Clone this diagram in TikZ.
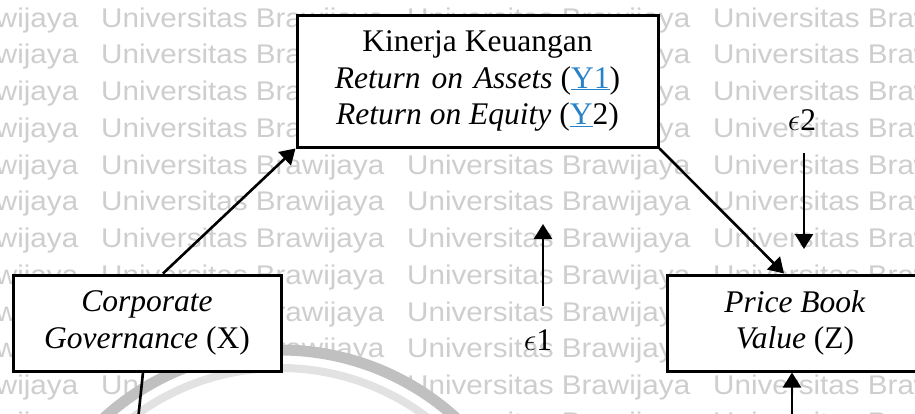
\RequirePackage{fix-cm}
\documentclass[tikz,border=0pt]{standalone}
\usepackage{fontspec}
\setmainfont{Liberation Serif}
\newfontfamily\wmfont{Liberation Sans}
\usetikzlibrary{arrows.meta}
\definecolor{linkblue}{RGB}{40,130,200}
\definecolor{wmgray}{RGB}{206,206,206}
\definecolor{ringdark}{RGB}{192,192,192}
\definecolor{ringlight}{RGB}{226,226,226}

\begin{document}
\begin{tikzpicture}[x=1pt,y=-1pt,
  box/.style={draw=black,line width=3pt,fill=white,inner sep=0pt,align=center,
    font=\fontsize{31.5}{36.5}\selectfont},
  link/.style={line width=2.6pt,-{Triangle[length=15pt,width=18pt]}},
  wm/.style={anchor=base west,inner sep=0pt,text=wmgray,
    font=\wmfont\fontsize{27}{27}\selectfont},
  errlabel/.style={inner sep=0pt,font=\fontsize{31.5}{36}\selectfont}
]
\clip (0,0) rectangle (915,413);
\fill[white] (0,0) rectangle (915,413);

% background watermark rows
\foreach \r in {0,...,11}{
  \foreach \c [count=\ci] in {-1,0,1,2}{
    \node[wm] (wm-\r-\ci) at ({101+306*\c},{27+36.75*\r})
      {\scalebox{1.097}[1]{Universitas Brawijaya}};
  }
}

% faint emblem ring behind the lower part
\fill[white] (280,612) circle[radius=262];
\draw[ringdark,line width=11pt] (280,612) circle[radius=262];
\draw[ringlight,line width=8pt] (280,612) circle[radius=244];

% variables
\node[box,minimum width=361pt,minimum height=132pt] (kin) at (477.5,81)
  {Kinerja Keuangan\\
   \textit{Return\hspace{3pt} on\hspace{3pt} Assets} ({\color{linkblue}\underline{Y1}})\\
   \textit{Return on Equity} ({\color{linkblue}\underline{Y}}2)};
\node[box,minimum width=268pt,minimum height=96pt] (cg) at (147,323)
  {\textit{Corporate}\\ \textit{Governance} (X)};
\node[box,minimum width=256pt,minimum height=96pt] (pbv) at (795,323)
  {\textit{Price Book}\\ \textit{Value} (Z)};

% error terms
\node[errlabel] (e1) at (538,340) {$\epsilon$1};
\node[errlabel] (e2) at (802,120) {$\epsilon$2};

% paths
\draw[link] ([xshift=16pt]cg.north) -- (kin.south west);
\draw[link] (kin.south east) -- ([xshift=-11pt]pbv.north);

\coordinate (e2a) at (804,153);
\coordinate (e2b) at (804,249);
\draw[link] (e2a) -- (e2b);

\coordinate (e1a) at (543,306);
\coordinate (e1b) at (543,224);
\draw[link] (e1a) -- (e1b);

\coordinate (pbvin) at (792,420);
\draw[link] (pbvin) -- ([xshift=-3pt]pbv.south);

\coordinate (cgout) at (138,420);
\draw[line width=2.6pt] ([xshift=-4pt]cg.south) -- (cgout);
\end{tikzpicture}
\end{document}
